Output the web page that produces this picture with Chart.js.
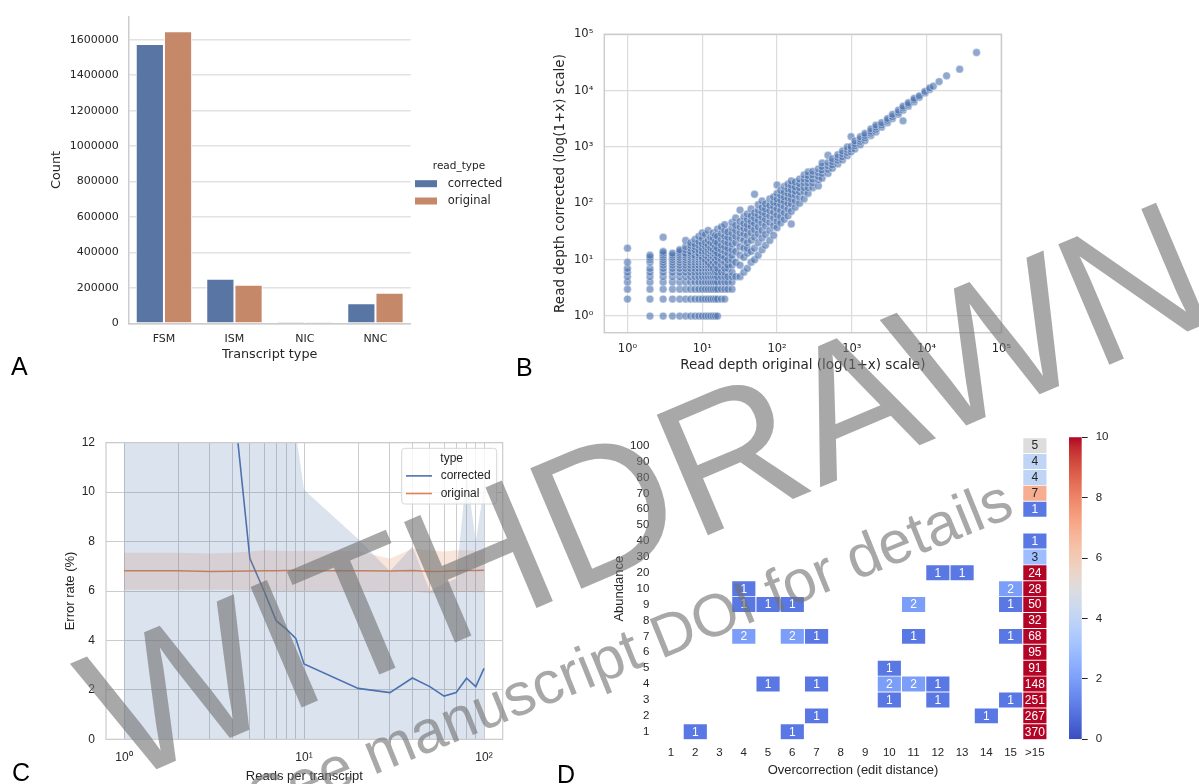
<!DOCTYPE html>
<html>
<head>
<meta charset="utf-8">
<script src="https://cdn.jsdelivr.net/npm/chart.js@4.4.1/dist/chart.umd.min.js"></script>
<style>
  html, body { margin: 0; padding: 0; background: #fff; }
  #page { position: relative; width: 1199px; height: 784px; overflow: hidden; }
  canvas { position: absolute; }
  .tag { position: absolute; font: 25px "Liberation Sans", Arial, sans-serif; line-height: 1; color: #000; }
  .wm { position: absolute; font-family: "Liberation Sans", Arial, sans-serif; line-height: 1; white-space: nowrap;
        color: rgba(115,115,115,0.62); pointer-events: none; }
</style>
</head>
<body>
<div id="page">
  <canvas id="chartA" width="520" height="380" style="left:0;top:0"></canvas>
  <canvas id="chartB" width="500" height="390" style="left:520px;top:0"></canvas>
  <canvas id="chartC" width="520" height="364" style="left:0;top:420px"></canvas>
  <canvas id="chartD" width="500" height="364" style="left:560px;top:420px"></canvas>
  <canvas id="chartBar" width="139" height="364" style="left:1060px;top:420px"></canvas>
  <div class="tag" style="left:11px;top:354px">A</div>
  <div class="tag" style="left:516px;top:355px">B</div>
  <div class="tag" style="left:12px;top:760px">C</div>
  <div class="tag" style="left:557px;top:762px">D</div>
  <div class="wm" style="left:645px;top:490px;font-size:190px;transform:translate(-50%,-50%) rotate(-23deg)">WITHDRAWN</div>
  <div class="wm" style="left:630px;top:650px;font-size:60px;transform:translate(-50%,-50%) rotate(-22deg)">See manuscript DOI for details</div>
</div>
<script>
// ---- panel A: transcript type counts
const transcriptTypes = ['FSM', 'ISM', 'NIC', 'NNC'];
const countCorrected = [1576000, 251000, 900, 113000];
const countOriginal = [1649000, 217000, 700, 172000];
const countTicks = [0, 200000, 400000, 600000, 800000, 1000000, 1200000, 1400000, 1600000];

// ---- panel B: read depth, original vs corrected  [original, [corrected...]]
const lowDepth = [
  [1, [2, 3, 4, 5, 6, 7, 9, 16]],
  [2, [1, 2, 3, 4, 5, 6, 7, 9, 10, 11, 12]],
  [3, [1, 2, 3, 4, 5, 6, 7, 8, 9, 10, 11, 12, 13, 14, 25]],
  [4, [1, 2, 3, 4, 5, 6, 7, 8, 9, 10, 11, 12, 13]],
  [5, [1, 2, 3, 4, 5, 6, 7, 8, 9, 10, 11, 12, 13, 14, 15]],
  [6, [1, 2, 3, 4, 5, 6, 7, 8, 9, 10, 11, 12, 13, 15, 17, 22]],
  [7, [1, 2, 3, 4, 5, 6, 7, 8, 9, 10, 11, 12, 13, 14, 16, 18, 20]],
  [8, [1, 2, 3, 4, 5, 6, 7, 8, 9, 10, 11, 12, 14, 15, 17, 19, 23]],
  [9, [1, 2, 3, 4, 5, 6, 7, 8, 9, 10, 11, 12, 13, 15, 18, 21, 26]],
  [10, [1, 2, 3, 4, 5, 6, 7, 8, 9, 10, 11, 13, 14, 16, 19, 24, 30]],
  [11, [1, 2, 3, 4, 5, 6, 7, 8, 9, 10, 12, 14, 17, 20, 28]],
  [12, [1, 2, 3, 4, 5, 6, 7, 8, 9, 11, 13, 15, 18, 22, 33]],
  [13, [1, 2, 3, 4, 5, 6, 7, 8, 10, 12, 14, 16, 20, 25]],
  [14, [1, 2, 3, 4, 5, 6, 7, 9, 11, 13, 15, 19, 24, 30]],
  [15, [1, 2, 3, 4, 5, 6, 8, 10, 12, 14, 17, 21, 27]],
  [16, [1, 2, 3, 4, 5, 6, 7, 9, 11, 13, 16, 20, 26, 35]],
  [18, [2, 3, 4, 5, 6, 8, 10, 12, 15, 18, 23, 29, 38]],
  [20, [2, 3, 4, 5, 6, 7, 9, 11, 14, 17, 21, 26, 33, 42]],
  [22, [3, 4, 5, 7, 8, 10, 13, 16, 20, 25, 31]],
  [25, [3, 4, 5, 6, 8, 10, 12, 15, 19, 24, 30, 37, 46]]
];
const highDepth = [
  [28, [5, 9, 14, 20, 26, 33, 41, 55]],
  [32, [5, 8, 12, 17, 24, 30, 38, 48, 76]],
  [36, [6, 11, 16, 22, 29, 36, 44, 58]],
  [40, [7, 13, 16, 20, 27, 35, 42, 52, 65]],
  [45, [9, 14, 22, 30, 39, 48, 60, 80]],
  [50, [10, 16, 25, 34, 44, 55, 68, 145]],
  [56, [12, 20, 29, 38, 50, 62, 76, 95]],
  [63, [15, 24, 33, 45, 57, 70, 85, 110]],
  [70, [18, 28, 40, 52, 65, 80, 98]],
  [80, [22, 33, 46, 60, 75, 92, 120]],
  [90, [27, 40, 55, 70, 88, 105, 130]],
  [100, [37, 48, 62, 80, 100, 120, 150, 212]],
  [112, [45, 58, 75, 95, 115, 140, 170]],
  [125, [52, 68, 88, 108, 130, 160, 200]],
  [140, [60, 80, 100, 125, 150, 180, 220]],
  [155, [43, 72, 98, 120, 145, 175, 210, 250]],
  [175, [85, 110, 140, 165, 195, 240]],
  [200, [100, 130, 160, 190, 225, 270]],
  [230, [120, 160, 190, 230, 270, 320]],
  [260, [150, 190, 230, 270, 310, 360]],
  [300, [190, 230, 270, 320, 370]],
  [357, [204, 260, 300, 350, 410]],
  [400, [280, 340, 390, 450, 520]],
  [480, [340, 400, 460, 530, 714]],
  [550, [420, 480, 550, 620]],
  [650, [500, 580, 650, 730]],
  [750, [590, 670, 760, 850]],
  [870, [700, 800, 900, 1000]],
  [977, [820, 920, 1020, 1530]],
  [1100, [920, 1050, 1150, 1280]],
  [1300, [1100, 1250, 1380, 1520]],
  [1500, [1300, 1450, 1600, 1750]],
  [1800, [1600, 1750, 1900, 2100]],
  [2100, [1850, 2050, 2250, 2450]],
  [2500, [2250, 2450, 2700]],
  [3000, [2700, 2950, 3200]],
  [3500, [3200, 3450, 3800]],
  [4200, [3800, 4100, 4500]],
  [4840, [2910, 4500, 4900, 5300]],
  [5700, [5300, 5700, 6100]],
  [6800, [6300, 6800, 7300]],
  [8000, [7600, 8100]],
  [9500, [9100, 9700]],
  [11000, [10500, 11200]],
  [12300, [12000]],
  [14700, [14500]],
  [18500, [18300]],
  [27700, [24000]],
  [46500, [47500]]
];
const depthTicks = [1, 10, 100, 1000, 10000, 100000];

// ---- panel C: error rate by reads per transcript
const readsPerTranscript = [1, 2, 3, 4, 5, 6, 7, 8, 9, 10, 20, 30, 40, 50, 60, 70, 80, 90, 100];
const correctedErr = [45, 35, 25, 14.2, 7.32, 6.0, 4.8, 4.45, 4.08, 3.05, 2.06, 1.89, 2.48, 2.13, 1.75, 1.89, 2.47, 2.13, 2.87];
const correctedHi = [60, 60, 60, 60, 60, 60, 60, 25, 12.4, 10.1, 8.1, 6.8, 7.8, 6.0, 6.3, 6.5, 10.8, 8.0, 10.2];
const correctedLo = [0, 0, 0, 0, 0, 0, 0, 0, 0, 0, 0, 0, 0, 0, 0, 0, 0, 0, 0];
const originalErr = [6.82, 6.82, 6.79, 6.80, 6.81, 6.82, 6.82, 6.83, 6.83, 6.82, 6.82, 6.81, 6.83, 6.79, 6.80, 6.82, 6.83, 6.83, 6.84];
const originalHi = [7.55, 7.55, 7.52, 7.55, 7.6, 7.65, 7.63, 7.62, 7.62, 7.63, 7.62, 7.3, 7.72, 7.65, 7.6, 7.65, 7.65, 7.62, 7.65];
const originalLo = [6.05, 6.05, 6.05, 6.05, 6.02, 6.0, 6.0, 6.0, 6.0, 6.0, 6.0, 5.95, 6.0, 5.9, 5.95, 5.95, 5.97, 5.95, 5.95];
const readsTicks = [1, 2, 3, 4, 5, 6, 7, 8, 9, 10, 20, 30, 40, 50, 60, 70, 80, 90, 100];
const errorTicks = [0, 2, 4, 6, 8, 10, 12];

// ---- panel D: overcorrection heatmap  [edit distance, abundance, count]
const editCols = ['1', '2', '3', '4', '5', '6', '7', '8', '9', '10', '11', '12', '13', '14', '15', '>15'];
const abundanceRows = ['1', '2', '3', '4', '5', '6', '7', '8', '9', '10', '20', '30', '40', '50', '60', '70', '80', '90', '100'];
const overcorrCells = [
  ['>15', '100', 5], ['>15', '90', 4], ['>15', '80', 4], ['>15', '70', 7], ['>15', '60', 1],
  ['>15', '40', 1], ['>15', '30', 3],
  ['12', '20', 1], ['13', '20', 1], ['>15', '20', 24],
  ['4', '10', 1], ['15', '10', 2], ['>15', '10', 28],
  ['4', '9', 1], ['5', '9', 1], ['6', '9', 1], ['11', '9', 2], ['15', '9', 1], ['>15', '9', 50],
  ['>15', '8', 32],
  ['4', '7', 2], ['6', '7', 2], ['7', '7', 1], ['11', '7', 1], ['15', '7', 1], ['>15', '7', 68],
  ['>15', '6', 95],
  ['10', '5', 1], ['>15', '5', 91],
  ['5', '4', 1], ['7', '4', 1], ['10', '4', 2], ['11', '4', 2], ['12', '4', 1], ['>15', '4', 148],
  ['10', '3', 1], ['12', '3', 1], ['15', '3', 1], ['>15', '3', 251],
  ['7', '2', 1], ['14', '2', 1], ['>15', '2', 267],
  ['2', '1', 1], ['6', '1', 1], ['>15', '1', 370]
];
const colorbarTicks = [0, 2, 4, 6, 8, 10];

// coolwarm colour map
const coolwarmStops = [
  [59, 76, 192], [68, 90, 204], [77, 104, 215], [87, 117, 225], [98, 130, 234], [108, 142, 241],
  [119, 154, 247], [130, 165, 251], [141, 176, 254], [152, 185, 255], [163, 194, 255], [174, 201, 253],
  [184, 208, 249], [194, 213, 244], [204, 217, 238], [213, 219, 230], [221, 221, 221], [229, 216, 209],
  [236, 211, 197], [241, 204, 185], [245, 196, 173], [247, 187, 160], [247, 177, 148], [247, 166, 135],
  [244, 154, 123], [241, 141, 111], [236, 127, 99], [229, 112, 88], [222, 96, 77], [213, 80, 66],
  [203, 62, 56], [192, 40, 47], [180, 4, 38]
];
function coolwarmRGB(t) {
  t = Math.max(0, Math.min(1, t));
  const p = t * (coolwarmStops.length - 1);
  const i = Math.min(Math.floor(p), coolwarmStops.length - 2);
  const f = p - i;
  return coolwarmStops[i].map((c, k) => c + (coolwarmStops[i + 1][k] - c) * f);
}
const rgbStr = c => `rgb(${c.map(Math.round).join(',')})`;
function cellTextColor(v) {
  const lum = coolwarmRGB(v / 10).map(c => {
    c /= 255;
    return c <= 0.03928 ? c / 12.92 : Math.pow((c + 0.055) / 1.055, 2.4);
  });
  const L = 0.2126 * lum[0] + 0.7152 * lum[1] + 0.0722 * lum[2];
  return L > 0.408 ? '#262626' : '#ffffff';
}

const supDigits = '⁰¹²³⁴⁵⁶⁷⁸⁹';
const pow10Label = v => '10' + supDigits[Math.round(Math.log10(v))];

const dejavu = 'DejaVu Sans';
const arial = 'Liberation Sans';
const ink = '#262626';

// fix axis box sizes so plot areas land where the figure has them
const fixW = w => s => { s.width = w; };
const fixH = h => s => { s.height = h; };

// draws a legend at a fixed spot, items = datasets with inLegend set
const floatLegend = {
  id: 'floatLegend',
  afterDraw(chart, args, o) {
    const ctx = chart.ctx;
    ctx.save();
    if (o.frame) {
      ctx.beginPath();
      ctx.roundRect(o.frame[0], o.frame[1], o.frame[2], o.frame[3], 3);
      ctx.fillStyle = 'rgba(255,255,255,0.8)';
      ctx.fill();
      ctx.strokeStyle = '#d6d6d6';
      ctx.lineWidth = 1;
      ctx.stroke();
    }
    ctx.fillStyle = ink;
    ctx.textBaseline = 'middle';
    ctx.textAlign = 'center';
    ctx.font = o.titleFont;
    ctx.fillText(o.title, o.titleX, o.titleY);
    ctx.font = o.font;
    ctx.textAlign = 'left';
    chart.data.datasets.filter(d => d.inLegend).forEach((d, i) => {
      const y = o.y + i * o.step;
      if (o.kind === 'box') {
        ctx.fillStyle = d.backgroundColor;
        ctx.fillRect(o.x, y - 3.5, 22, 7);
      } else {
        ctx.strokeStyle = d.borderColor;
        ctx.lineWidth = d.borderWidth;
        ctx.beginPath();
        ctx.moveTo(o.x, y);
        ctx.lineTo(o.x + 26, y);
        ctx.stroke();
      }
      ctx.fillStyle = ink;
      ctx.fillText(d.label, o.textX, y);
    });
    ctx.restore();
  }
};

// box around the plot area
const frame = {
  id: 'frame',
  afterDatasetsDraw(chart, args, o) {
    const {left, top, right, bottom} = chart.chartArea;
    const ctx = chart.ctx;
    ctx.save();
    ctx.strokeStyle = o.color || '#cccccc';
    ctx.lineWidth = o.width || 1;
    ctx.strokeRect(left, top, right - left, bottom - top);
    ctx.restore();
  }
};

// numbers on heatmap cells
const cellText = {
  id: 'cellText',
  afterDatasetsDraw(chart) {
    const ctx = chart.ctx;
    ctx.save();
    ctx.font = `12px "${arial}"`;
    ctx.textAlign = 'center';
    ctx.textBaseline = 'middle';
    chart.getDatasetMeta(0).data.forEach((bar, i) => {
      const v = overcorrCells[i][2];
      ctx.fillStyle = cellTextColor(v);
      ctx.fillText(String(v), bar.x, (bar.y + bar.base) / 2 + 0.5);
    });
    ctx.restore();
  }
};

Chart.defaults.animation = false;
Chart.defaults.responsive = false;
Chart.defaults.devicePixelRatio = 1;
Chart.defaults.plugins.legend.display = false;
Chart.defaults.plugins.tooltip.enabled = false;
Chart.defaults.color = ink;

// ---------- A
new Chart(document.getElementById('chartA'), {
  type: 'bar',
  data: {
    labels: transcriptTypes,
    datasets: [
      { label: 'corrected', data: countCorrected, backgroundColor: '#5975a4', borderColor: '#ffffff', borderWidth: 1, inLegend: true },
      { label: 'original', data: countOriginal, backgroundColor: '#c5896a', borderColor: '#ffffff', borderWidth: 1, inLegend: true }
    ]
  },
  options: {
    layout: { autoPadding: false, padding: { left: 0, top: 7.3, right: 109.3, bottom: 0 } },
    datasets: { bar: { categoryPercentage: 0.8, barPercentage: 1 } },
    scales: {
      x: {
        afterFit: fixH(56.7),
        grid: { display: false, drawTicks: false },
        border: { display: true, color: '#cccccc', width: 1.5 },
        ticks: { padding: 9, font: { family: dejavu, size: 11 }, color: ink },
        title: { display: true, text: 'Transcript type', font: { family: dejavu, size: 12.8 }, padding: { top: 0, bottom: 17.3 }, color: ink }
      },
      y: {
        min: 0, max: 1731000, bounds: 'data',
        afterFit: fixW(128.7),
        afterBuildTicks: s => { s.ticks = countTicks.map(v => ({ value: v })); },
        grid: { color: '#e2e2e2', lineWidth: 1.5, drawTicks: false },
        border: { display: true, color: '#cccccc', width: 1.5 },
        ticks: { padding: 10, font: { family: dejavu, size: 11 }, color: ink, callback: v => String(v) },
        title: { display: true, text: 'Count', font: { family: dejavu, size: 12.8 }, padding: { top: 49.3, bottom: 0 }, color: ink }
      }
    },
    plugins: {
      floatLegend: {
        kind: 'box', title: 'read_type', titleX: 459, titleY: 166.7,
        titleFont: `10.5px "${dejavu}"`, font: `11.5px "${dejavu}"`,
        x: 415, y: 183.7, step: 17.3, textX: 447.7
      }
    }
  },
  plugins: [floatLegend]
});

// ---------- B
const depthPoints = [];
lowDepth.concat(highDepth).forEach(([x, ys]) => ys.forEach(y => depthPoints.push({ x, y })));

new Chart(document.getElementById('chartB'), {
  type: 'scatter',
  data: {
    datasets: [{
      data: depthPoints,
      backgroundColor: 'rgba(76,114,176,0.62)',
      borderColor: 'rgba(255,255,255,0.7)',
      borderWidth: 0.6,
      pointRadius: 3.9
    }]
  },
  options: {
    layout: { autoPadding: false, padding: { left: 0, top: 34.3, right: 15, bottom: 0 } },
    scales: {
      x: {
        type: 'logarithmic', min: 0.49, max: 100000, bounds: 'data',
        afterFit: fixH(57.3),
        afterBuildTicks: s => { s.ticks = depthTicks.map(v => ({ value: v })); },
        grid: { color: '#dcdcdc', lineWidth: 1.2, drawTicks: false },
        border: { display: false },
        ticks: { padding: 9, font: { family: dejavu, size: 11.5 }, color: ink, callback: v => pow10Label(v) },
        title: { display: true, text: 'Read depth original (log(1+x) scale)', font: { family: dejavu, size: 13.5 }, padding: { top: 0, bottom: 16 }, color: ink }
      },
      y: {
        type: 'logarithmic', min: 0.506, max: 100000, bounds: 'data',
        afterFit: fixW(84.3),
        afterBuildTicks: s => { s.ticks = depthTicks.map(v => ({ value: v })); },
        grid: { color: '#dcdcdc', lineWidth: 1.2, drawTicks: false },
        border: { display: false },
        ticks: { padding: 11, font: { family: dejavu, size: 11.5 }, color: ink, callback: v => pow10Label(v) },
        title: { display: true, text: 'Read depth corrected (log(1+x) scale)', font: { family: dejavu, size: 13.5 }, padding: { top: 32.6, bottom: 0 }, color: ink }
      }
    },
    plugins: { frame: { color: '#cccccc', width: 1.5 } }
  },
  plugins: [frame]
});

// ---------- C
const xy = ys => readsPerTranscript.map((x, i) => ({ x, y: ys[i] }));
const lineBase = { pointRadius: 0, tension: 0 };

new Chart(document.getElementById('chartC'), {
  type: 'line',
  data: {
    datasets: [
      { ...lineBase, data: xy(correctedHi), borderWidth: 0, fill: '+1', backgroundColor: 'rgba(76,114,176,0.2)' },
      { ...lineBase, data: xy(correctedLo), borderWidth: 0, fill: false },
      { ...lineBase, data: xy(originalHi), borderWidth: 0, fill: '+1', backgroundColor: 'rgba(221,132,82,0.2)' },
      { ...lineBase, data: xy(originalLo), borderWidth: 0, fill: false },
      { ...lineBase, label: 'corrected', data: xy(correctedErr), borderColor: '#4c72b0', borderWidth: 1.6, fill: false, inLegend: true },
      { ...lineBase, label: 'original', data: xy(originalErr), borderColor: '#dd8452', borderWidth: 1.6, fill: false, inLegend: true }
    ]
  },
  options: {
    layout: { autoPadding: false, padding: { left: 0, top: 22.7, right: 17.3, bottom: 0 } },
    scales: {
      x: {
        type: 'logarithmic', min: 0.794, max: 127, bounds: 'data',
        afterFit: fixH(44.7),
        afterBuildTicks: s => { s.ticks = readsTicks.map(v => ({ value: v })); },
        grid: { color: '#cccccc', lineWidth: 1, drawTicks: false },
        border: { display: false },
        ticks: { padding: 11.5, autoSkip: false, maxRotation: 0, font: { family: arial, size: 12 }, color: ink,
                 callback: v => ([1, 10, 100].includes(v) ? pow10Label(v) : '') },
        title: { display: true, text: 'Reads per transcript', font: { family: arial, size: 13 }, padding: { top: 0, bottom: 0 }, color: ink }
      },
      y: {
        min: 0, max: 12, bounds: 'data',
        afterFit: fixW(106),
        afterBuildTicks: s => { s.ticks = errorTicks.map(v => ({ value: v })); },
        grid: { color: '#cccccc', lineWidth: 1, drawTicks: false },
        border: { display: false },
        ticks: { padding: 11, font: { family: arial, size: 12 }, color: ink },
        title: { display: true, text: 'Error rate (%)', font: { family: arial, size: 13 }, padding: { top: 62.2, bottom: 0 }, color: ink }
      }
    },
    plugins: {
      frame: { color: '#cccccc', width: 1.2 },
      floatLegend: {
        kind: 'line', frame: [401.7, 28.3, 95, 55.7], title: 'type', titleX: 451.7, titleY: 38.6,
        titleFont: `12px "${arial}"`, font: `12px "${arial}"`,
        x: 406, y: 55.9, step: 17.6, textX: 440.7
      }
    }
  },
  plugins: [frame, floatLegend]
});

// ---------- D
new Chart(document.getElementById('chartD'), {
  type: 'bar',
  data: {
    labels: editCols,
    datasets: [{
      data: overcorrCells.map(([c, r]) => {
        const k = abundanceRows.indexOf(r);
        return { x: c, y: [k - 0.47, k + 0.47] };
      }),
      backgroundColor: overcorrCells.map(([, , v]) => rgbStr(coolwarmRGB(v / 10))),
      borderWidth: 0
    }]
  },
  options: {
    layout: { autoPadding: false, padding: { left: 0, top: 17.7, right: 13, bottom: 0 } },
    datasets: { bar: { categoryPercentage: 0.955, barPercentage: 1 } },
    scales: {
      x: {
        afterFit: fixH(44.3),
        grid: { display: false, drawTicks: false },
        border: { display: false },
        ticks: { padding: 6, autoSkip: false, maxRotation: 0, font: { family: arial, size: 11.5 }, color: ink },
        title: { display: true, text: 'Overcorrection (edit distance)', font: { family: arial, size: 13 }, padding: { top: 0, bottom: 6.2 }, color: ink }
      },
      y: {
        min: -0.5, max: 18.5, bounds: 'data',
        afterFit: fixW(98.9),
        afterBuildTicks: s => { s.ticks = abundanceRows.map((_, i) => ({ value: i })); },
        grid: { display: false, drawTicks: false },
        border: { display: false },
        ticks: { padding: 9.6, autoSkip: false, font: { family: arial, size: 11.5 }, color: ink,
                 callback: v => abundanceRows[v] },
        title: { display: true, text: 'Abundance', font: { family: arial, size: 13 }, padding: { top: 51.2, bottom: 0 }, color: ink }
      }
    }
  },
  plugins: [cellText]
});

// ---------- D colour bar
new Chart(document.getElementById('chartBar'), {
  type: 'bar',
  data: {
    labels: [''],
    datasets: [{
      data: [[0, 10]],
      borderWidth: 0,
      backgroundColor: c => {
        const ca = c.chart.chartArea;
        if (!ca) return '#b40426';
        const g = c.chart.ctx.createLinearGradient(0, ca.bottom, 0, ca.top);
        coolwarmStops.forEach((s, i) => g.addColorStop(i / (coolwarmStops.length - 1), rgbStr(s)));
        return g;
      }
    }]
  },
  options: {
    layout: { autoPadding: false, padding: { left: 9, top: 17.3, right: 57.3, bottom: 44.7 } },
    datasets: { bar: { categoryPercentage: 1, barPercentage: 1 } },
    scales: {
      x: { display: false },
      y: {
        position: 'right', min: 0, max: 10, bounds: 'data',
        afterFit: fixW(60),
        afterBuildTicks: s => { s.ticks = colorbarTicks.map(v => ({ value: v })); },
        grid: { drawOnChartArea: false, drawTicks: true, tickLength: 6, color: ink, lineWidth: 1 },
        border: { display: false },
        ticks: { padding: 8, font: { family: arial, size: 11.5 }, color: ink }
      }
    }
  }
});
</script>
</body>
</html>
